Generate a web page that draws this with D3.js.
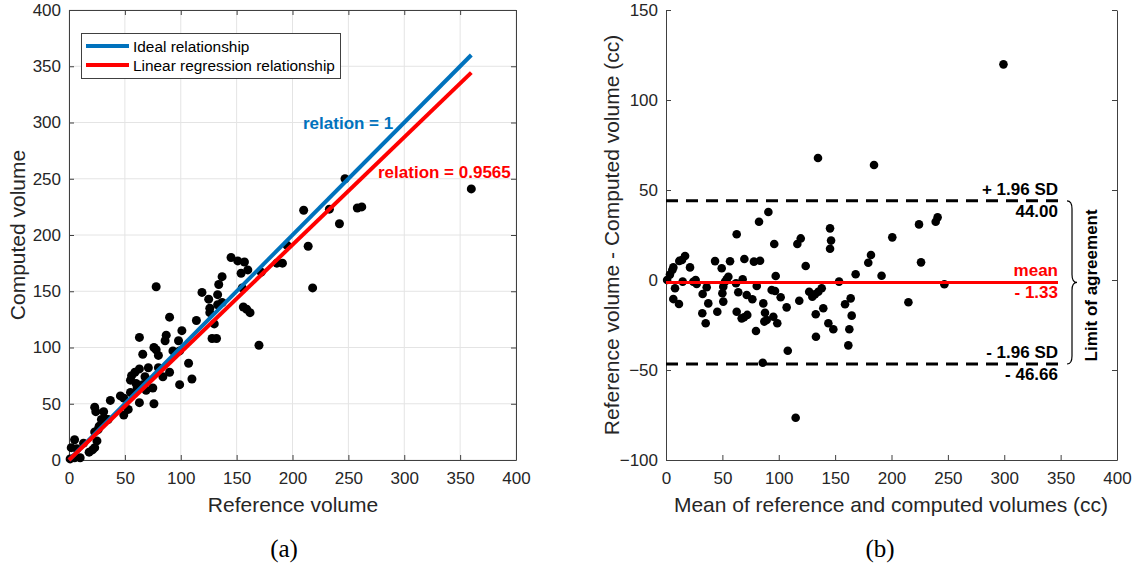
<!DOCTYPE html>
<html><head><meta charset="utf-8">
<script src="https://cdn.jsdelivr.net/npm/d3@7"></script>
<style>body{margin:0;background:#fff}svg{display:block}text{font-family:"Liberation Sans",Arial,sans-serif}</style>
</head><body>
<svg id="c" width="1138" height="566"></svg>
<script>
// ---------- data ----------
const axisTicks = [0,50,100,150,200,250,300,350,400];
const baTicksY = [-100,-50,0,50,100,150];
// (a) reference vs computed volume
const refVolume = [1,2,5,5,7,10,13,18,21,23,25,23,26,27,23,24,31,32,29,35,37,46,49,49,53,55,55,56,59,60,61,63,63,63,66,68,71,75,76,76,78,80,78,80,84,86,87,90,90,93,98,99,99,101,107,110,114,119,125,126,126,128,132,130,133,133,134,137,137,145,151,157,160,154,155,156,159,162,170,172,186,191,195,210,214,218,233,242,247,258,262,360,69,66];
const compVolume = [1,11,2,18,10,2,15,7,9,11,17,25,27,30,47,43,43,37,36,36,53,57,55,40,45,60,71,75,78,68,64,81,51,109,94,74,82,64,50,100,98,93,154,82,74,106,111,127,78,97,106,97,67,115,86,72,124,149,143,135,131,108,108,121,138,147,156,163,140,180,177,176,169,166,153,136,134,131,102,167,175,175,191,222,190,153,223,210,250,224,225,241,62,67];
// (b) Bland-Altman
const baMean = [1,3.5,5.6,6.5,8,6.5,11.5,11.8,14.2,16.9,14.8,21.3,24.2,26.3,27.2,36.1,32.5,37.5,32.2,35.2,43.5,49.4,45.5,52.3,50.8,50,50.8,55.3,56.8,62.7,62.1,64.1,62.7,67.1,69.2,72.1,68,69.5,71.6,76.6,78,83.4,80.5,82.5,90.8,86.3,87.8,87.2,89.3,79.8,85.8,96,97.3,93.7,96.7,95.2,98.7,101.7,107,108,115,116.5,119.5,118.2,123.9,127,129.8,132.2,135.1,138.1,132.8,133,139.5,144,148.4,145.5,146.4,145.5,153.5,158.8,163.8,164.7,162.6,161.7,168.2,134.8,179.4,181.8,184.5,191.2,200.7,215,224.4,226.2,239.2,240.9,246.9,299.3,53.8];
const baDiff = [0,3,5.6,7,-4.6,-10.6,-13.3,10.6,11.1,13.3,-0.9,7,-1,0,-2.2,-4,-7.8,-13,-18.5,-24,10.5,6.5,-17.6,-1,-3.7,-7.4,-12,1.8,10.4,25.4,-1.8,-6.8,-17.6,-21.3,-20.7,-19.4,0.4,11.7,-8.3,-10.7,10.2,10.7,-3.3,32.4,37.8,-13,-18.2,-23.1,-22.2,-28.3,-46,20,2.2,-5.6,-6.1,-20.4,-24,-9.6,-15.2,-39.3,-76.5,20,23.1,-11.5,7.8,-6.5,-9.3,-7.9,-6.5,-4.6,-19,-31.5,-15.7,-24,-27.4,28.7,21.9,17.4,-0.9,-13.5,-10.2,-19.8,-27.4,-36.3,3.2,67.8,9.6,13.9,63.9,2.4,23.7,-12.4,30.9,9.8,32.4,34.8,-2.4,119.8,0.4];
const idealSlope = 1, regSlope = 0.9565, lineEnd = 360;
const meanDiff = -1.33, upperLoA = 44.00, lowerLoA = -46.66;

// ---------- drawing ----------
const svg = d3.select("#c");
const axisCol = "#404040", txtCol = "#262626";

// Panel (a)
const xa = d3.scaleLinear().domain([0,400]).range([69,516]);
const ya = d3.scaleLinear().domain([0,400]).range([460,10]);
const ga = svg.append("g");
// grid
ga.selectAll(".gx").data(axisTicks).enter().append("line")
  .attr("x1",d=>xa(d)).attr("x2",d=>xa(d)).attr("y1",ya(0)).attr("y2",ya(400))
  .attr("stroke","#e4e4e4").attr("stroke-width",1);
ga.selectAll(".gy").data(axisTicks).enter().append("line")
  .attr("y1",d=>ya(d)).attr("y2",d=>ya(d)).attr("x1",xa(0)).attr("x2",xa(400))
  .attr("stroke","#e4e4e4").attr("stroke-width",1);

function styleAxis(g){
  g.selectAll("path").attr("stroke",axisCol);
  g.selectAll("line").attr("stroke",axisCol);
  g.selectAll("text").attr("fill",txtCol).style("font-size","17px").style("font-family","Liberation Sans, Arial, sans-serif");
}
ga.append("g").attr("transform",`translate(0,${ya(0)})`)
  .call(d3.axisBottom(xa).tickValues(axisTicks).tickSize(-5).tickSizeOuter(0).tickPadding(12)).call(styleAxis);
ga.append("g").attr("transform",`translate(${xa(0)},0)`)
  .call(d3.axisLeft(ya).tickValues(axisTicks).tickSize(-5).tickSizeOuter(0).tickPadding(8)).call(styleAxis);
ga.append("g").attr("transform",`translate(0,${ya(400)})`)
  .call(d3.axisTop(xa).tickValues(axisTicks).tickSize(-5).tickSizeOuter(0).tickFormat("")).call(styleAxis);
ga.append("g").attr("transform",`translate(${xa(400)},0)`)
  .call(d3.axisRight(ya).tickValues(axisTicks).tickSize(-5).tickSizeOuter(0).tickFormat("")).call(styleAxis);

// points
ga.selectAll(".pa").data(refVolume.map((r,i)=>[r,compVolume[i]])).enter().append("circle")
  .attr("cx",d=>xa(d[0])).attr("cy",d=>ya(d[1])).attr("r",4.5).attr("fill","#000");
// lines
ga.append("line").attr("x1",xa(0)).attr("y1",ya(0)).attr("x2",xa(lineEnd)).attr("y2",ya(idealSlope*lineEnd))
  .attr("stroke","#0072BD").attr("stroke-width",4);
ga.append("line").attr("x1",xa(0)).attr("y1",ya(0)).attr("x2",xa(lineEnd)).attr("y2",ya(regSlope*lineEnd))
  .attr("stroke","#FF0000").attr("stroke-width",4);
ga.append("text").attr("x",303).attr("y",129).attr("fill","#0072BD").style("font-weight","bold").style("font-size","17px").text("relation = 1");
ga.append("text").attr("x",378).attr("y",178).attr("fill","#FF0000").style("font-weight","bold").style("font-size","17px").text("relation = 0.9565");
// legend
const lg = ga.append("g");
lg.append("rect").attr("x",81.5).attr("y",33.5).attr("width",259).attr("height",45).attr("fill","#fff").attr("stroke",axisCol).attr("stroke-width",1);
[["Ideal relationship","#0072BD",46],["Linear regression relationship","#FF0000",65]].forEach(([t,c,y])=>{
  lg.append("line").attr("x1",86).attr("x2",129).attr("y1",y).attr("y2",y).attr("stroke",c).attr("stroke-width",4);
  lg.append("text").attr("x",133).attr("y",y+6).attr("fill","#000").style("font-size","15.4px").text(t);
});
// labels
ga.append("text").attr("x",293).attr("y",512).attr("text-anchor","middle").attr("fill",txtCol).style("font-size","21px").text("Reference volume");
ga.append("text").attr("transform","translate(25,235) rotate(-90)").attr("text-anchor","middle").attr("fill",txtCol).style("font-size","21px").text("Computed volume");
ga.append("text").attr("x",284).attr("y",557).attr("text-anchor","middle").attr("fill","#000").style("font-family","Liberation Serif, serif").style("font-size","25px").text("(a)");

// Panel (b)
const xb = d3.scaleLinear().domain([0,400]).range([666,1117]);
const yb = d3.scaleLinear().domain([-100,150]).range([460,10]);
const gb = svg.append("g");
gb.append("g").attr("transform",`translate(0,${yb(-100)})`)
  .call(d3.axisBottom(xb).tickValues(axisTicks).tickSize(-5).tickSizeOuter(0).tickPadding(12)).call(styleAxis);
gb.append("g").attr("transform",`translate(${xb(0)},0)`)
  .call(d3.axisLeft(yb).tickValues(baTicksY).tickSize(-5).tickSizeOuter(0).tickPadding(8)).call(styleAxis);
gb.append("g").attr("transform",`translate(${xb(400)},0)`)
  .call(d3.axisRight(yb).tickValues(baTicksY).tickSize(-5).tickSizeOuter(0).tickFormat("")).call(styleAxis);

const lineEndX = 1058;
gb.selectAll(".loa").data([upperLoA, lowerLoA]).enter().append("line")
  .attr("x1",xb(0)).attr("x2",lineEndX).attr("y1",d=>yb(d)).attr("y2",d=>yb(d))
  .attr("stroke","#000").attr("stroke-width",3).attr("stroke-dasharray","12,8");
gb.selectAll(".pb").data(baMean.map((m,i)=>[m,baDiff[i]])).enter().append("circle")
  .attr("cx",d=>xb(d[0])).attr("cy",d=>yb(d[1])).attr("r",4.3).attr("fill","#000");
gb.append("line").attr("x1",xb(0)).attr("x2",lineEndX).attr("y1",yb(meanDiff)).attr("y2",yb(meanDiff))
  .attr("stroke","#FF0000").attr("stroke-width",3);

const bt = (txt,y,col)=>gb.append("text").attr("x",lineEndX).attr("y",y).attr("text-anchor","end")
  .attr("fill",col).style("font-weight","bold").style("font-size","17px").text(txt);
bt("+ 1.96 SD", yb(upperLoA)-6, "#000");
bt(upperLoA.toFixed(2), yb(upperLoA)+16, "#000");
bt("mean", yb(meanDiff)-6, "#FF0000");
bt("- " + Math.abs(meanDiff).toFixed(2), yb(meanDiff)+16, "#FF0000");
bt("- 1.96 SD", yb(lowerLoA)-6, "#000");
bt("- " + Math.abs(lowerLoA).toFixed(2), yb(lowerLoA)+16, "#000");

// brace
const bx = 1067, by1 = yb(upperLoA), by2 = yb(lowerLoA), bm = yb(meanDiff), bw = 5;
gb.append("path").attr("d",
  `M${bx},${by1} Q${bx+bw},${by1} ${bx+bw},${by1+8} L${bx+bw},${bm-8} Q${bx+bw},${bm} ${bx+2*bw},${bm} Q${bx+bw},${bm} ${bx+bw},${bm+8} L${bx+bw},${by2-8} Q${bx+bw},${by2} ${bx},${by2}`)
  .attr("fill","none").attr("stroke","#000").attr("stroke-width",1.2);
gb.append("text").attr("transform",`translate(1097,${bm+3}) rotate(-90)`).attr("text-anchor","middle")
  .attr("fill","#000").style("font-weight","bold").style("font-size","17px").text("Limit of agreement");

gb.append("text").attr("x",891).attr("y",512).attr("text-anchor","middle").attr("fill",txtCol).style("font-size","21px").text("Mean of reference and computed volumes (cc)");
gb.append("text").attr("transform","translate(619,235) rotate(-90)").attr("text-anchor","middle").attr("fill",txtCol).style("font-size","21px").text("Reference volume - Computed volume (cc)");
gb.append("text").attr("x",880).attr("y",557).attr("text-anchor","middle").attr("fill","#000").style("font-family","Liberation Serif, serif").style("font-size","25px").text("(b)");
</script>
</body></html>
